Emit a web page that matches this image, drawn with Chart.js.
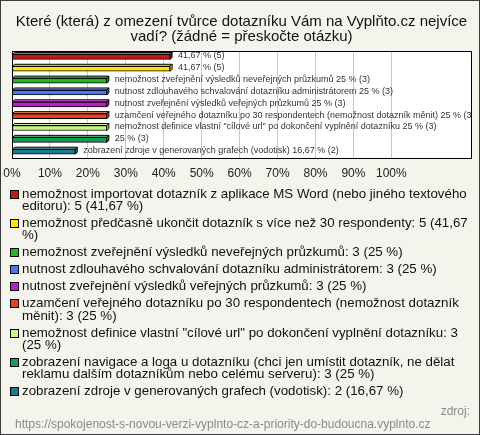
<!DOCTYPE html>
<html>
<head>
<meta charset="utf-8">
<script src="https://cdn.jsdelivr.net/npm/chart.js@4/dist/chart.umd.min.js"></script>
<style>
  html, body { margin: 0; padding: 0; }
  #box { position: relative; width: 480px; height: 435px; box-sizing: border-box; border: 1px solid #3a3a3a; background: #f4f3ec; overflow: hidden; font-family: "Liberation Sans", Arial, sans-serif; }
  #chart { position: absolute; left: -1px; top: -1px; }
  #legend { position: absolute; left: 9px; top: 187px; width: 462px; }
  .item { display: flex; align-items: flex-start; margin-bottom: 4.8px; font-size: 13.3px; line-height: 12.2px; color: #111; }
  .sw { flex: none; width: 7px; height: 7px; border: 1px solid #000; margin: 2px 3px 0 0; }
  #zdroj { position: absolute; right: 9px; top: 403px; font-size: 12px; color: #8a8a8a; }
  #url { position: absolute; left: 14px; top: 416px; font-size: 12px; color: #8a8a8a; }
</style>
</head>
<body>
<div id="box">
  <canvas id="chart" width="480" height="192"></canvas>
  <div id="legend"></div>
  <div id="zdroj">zdroj:</div>
  <div id="url">https://spokojenost-s-novou-verzi-vyplnto-cz-a-priority-do-budoucna.vyplnto.cz</div>
</div>
<script>
// data
var titleLines = ["Které (která) z omezení tvůrce dotazníku Vám na Vyplňto.cz nejvíce", "vadí? (žádné = přeskočte otázku)"];
var categories = [
    "nemožnost importovat dotazník z aplikace MS Word (nebo jiného textového editoru)",
    "nemožnost předčasně ukončit dotazník s více než 30 respondenty",
    "nemožnost zveřejnění výsledků neveřejných průzkumů",
    "nutnost zdlouhavého schvalování dotazníku administrátorem",
    "nutnost zveřejnění výsledků veřejných průzkumů",
    "uzamčení veřejného dotazníku po 30 respondentech (nemožnost dotazník měnit)",
    "nemožnost definice vlastní \"cílové url\" po dokončení vyplnění dotazníku",
    "zobrazení navigace a loga u dotazníku (chci jen umístit dotazník, ne dělat reklamu dalším dotazníkům nebo celému serveru)",
    "zobrazení zdroje v generovaných grafech (vodotisk)"
];
var counts = [5, 5, 3, 3, 3, 3, 3, 3, 2];
var percents = [41.67, 41.67, 25, 25, 25, 25, 25, 25, 16.67];
var nameOnBar = [false, false, true, true, true, true, true, false, true];
var barColors = ['#c8170c', '#ffe400', '#22b822', '#4a78f0', '#c01ad0', '#e8421a', '#c6f87a', '#189a58', '#1e7a90'];
var xTickValues = [0, 10, 20, 30, 40, 50, 60, 70, 80, 90, 100];
var axisMax = 121;

function fmtPct(v) {
    return String(v).replace('.', ',');
}

function lighten(hex, amt) {
    var n = parseInt(hex.slice(1), 16);
    var r = (n >> 16) & 255, g = (n >> 8) & 255, b = n & 255;
    r = Math.round(r + (255 - r) * amt);
    g = Math.round(g + (255 - g) * amt);
    b = Math.round(b + (255 - b) * amt);
    return 'rgb(' + r + ',' + g + ',' + b + ')';
}

// legend
var legendHtml = '';
for (var i = 0; i < categories.length; i++) {
    legendHtml += '<div class="item"><span class="sw" style="background:' + barColors[i] + '"></span><span>' +
        categories[i].replace(/"/g, '&quot;') + ': ' + counts[i] + ' (' + fmtPct(percents[i]) + ' %)</span></div>';
}
document.getElementById('legend').innerHTML = legendHtml;

var plotFrame = {
    id: 'plotFrame',
    beforeDraw: function (chart) {
        var a = chart.chartArea, ctx = chart.ctx;
        ctx.save();
        ctx.fillStyle = '#ffffff';
        ctx.fillRect(a.left, a.top, a.right - a.left, a.bottom - a.top);
        ctx.restore();
    },
    afterDatasetsDraw: function (chart) {
        var a = chart.chartArea, ctx = chart.ctx;
        var bars = chart.getDatasetMeta(0).data;
        ctx.save();
        // 3d faces of the bars
        bars.forEach(function (bar, i) {
            var top = bar.y - bar.height / 2, bot = bar.y + bar.height / 2;
            var l = bar.base, r = bar.x, d = 2;
            ctx.fillStyle = lighten(barColors[i], 0.35);
            ctx.strokeStyle = '#000';
            ctx.lineWidth = 1;
            ctx.beginPath();
            ctx.moveTo(l, top); ctx.lineTo(l + d, top - d); ctx.lineTo(r + d, top - d); ctx.lineTo(r, top); ctx.closePath();
            ctx.fill(); ctx.stroke();
            ctx.fillStyle = barColors[i];
            ctx.beginPath();
            ctx.moveTo(r, top); ctx.lineTo(r + d, top - d); ctx.lineTo(r + d, bot - d); ctx.lineTo(r, bot); ctx.closePath();
            ctx.fill(); ctx.stroke();
        });
        // bar labels
        ctx.beginPath();
        ctx.rect(a.left, a.top, a.right - a.left, a.bottom - a.top);
        ctx.clip();
        ctx.font = '9px "Liberation Sans", Arial, sans-serif';
        ctx.fillStyle = '#333';
        ctx.textBaseline = 'middle';
        bars.forEach(function (bar, i) {
            var txt = (nameOnBar[i] ? categories[i] + ' ' : '') + fmtPct(percents[i]) + ' % (' + counts[i] + ')';
            ctx.fillText(txt, bar.x + 8, bar.y - 1);
        });
        ctx.restore();
        // frame
        ctx.save();
        ctx.strokeStyle = '#000';
        ctx.lineWidth = 1;
        ctx.strokeRect(Math.round(a.left) + 0.5, Math.round(a.top) + 0.5, Math.round(a.right - a.left), Math.round(a.bottom - a.top));
        ctx.restore();
    }
};

var ctxChart = document.getElementById('chart').getContext('2d');
new Chart(ctxChart, {
    type: 'bar',
    data: {
        labels: categories,
        datasets: [{
            data: percents,
            backgroundColor: barColors,
            borderColor: '#000',
            borderWidth: 1,
            borderSkipped: false,
            barThickness: 5
        }]
    },
    options: {
        indexAxis: 'y',
        responsive: false,
        animation: false,
        layout: { padding: { left: 12, right: 9, top: 0, bottom: 2 } },
        plugins: {
            legend: { display: false },
            tooltip: { enabled: false },
            title: {
                display: true,
                text: titleLines,
                color: '#111',
                font: { size: 15, family: '"Liberation Sans", Arial, sans-serif', weight: 'normal', lineHeight: 1.0 },
                padding: { top: 14, bottom: 7 }
            }
        },
        scales: {
            x: {
                min: 0,
                max: axisMax,
                afterBuildTicks: function (scale) {
                    scale.ticks = xTickValues.map(function (v) { return { value: v }; });
                },
                afterFit: function (scale) {
                    scale.paddingLeft = 0;
                    scale.paddingRight = 0;
                },
                ticks: {
                    color: '#222',
                    font: { size: 12, family: '"Liberation Sans", Arial, sans-serif' },
                    padding: 9,
                    maxRotation: 0,
                    autoSkip: false,
                    callback: function (v) { return v + '%'; }
                },
                grid: { color: '#c8c8c8', drawTicks: false },
                border: { display: false }
            },
            y: {
                display: false,
                grid: { display: false }
            }
        }
    },
    plugins: [plotFrame]
});
</script>
</body>
</html>
